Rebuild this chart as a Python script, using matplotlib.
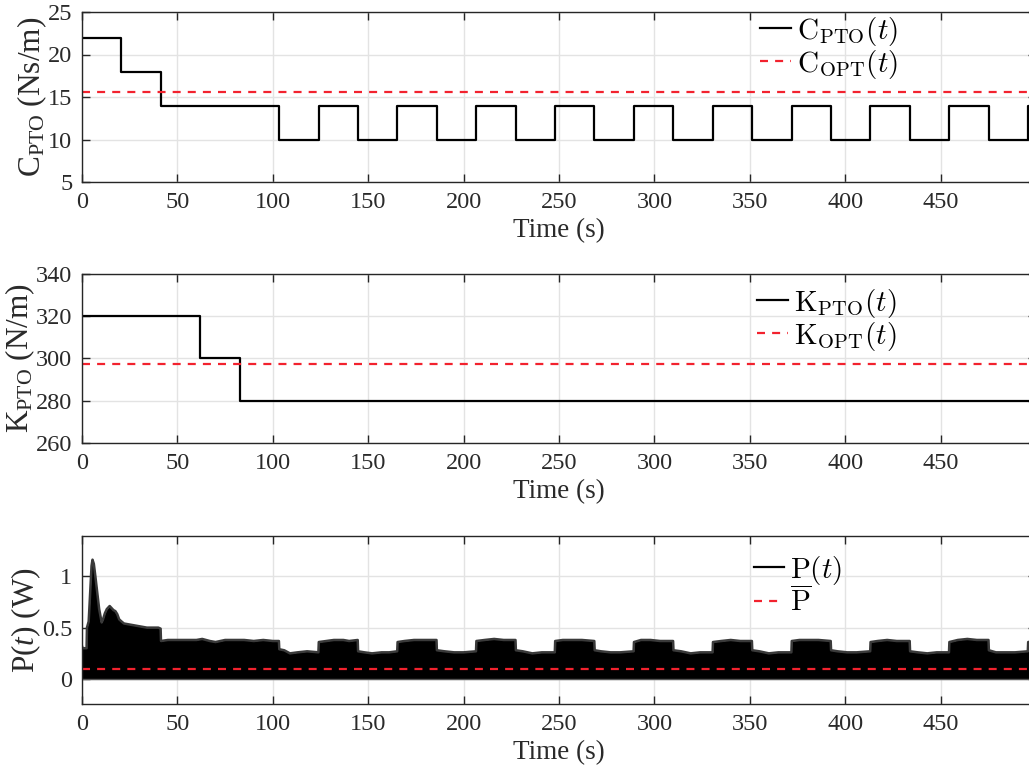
import matplotlib
matplotlib.use("Agg")
import matplotlib.pyplot as plt

# ---- data ---------------------------------------------------------------
# PTO damping schedule: switch instants (s) and the value held after each
c_switch_t = [0, 20.7, 41.3, 103.3, 124.0, 144.6, 165.3, 185.9, 206.6, 227.3,
              247.9, 268.6, 289.2, 309.9, 330.6, 351.2, 371.9, 392.5, 413.2,
              433.9, 454.5, 475.2, 495.8]
c_values = [22, 18, 14, 10, 14, 10, 14, 10, 14, 10, 14, 10, 14, 10, 14, 10,
            14, 10, 14, 10, 14, 10, 14]
c_opt = 15.6

# PTO stiffness schedule
k_switch_t = [0, 62.0, 82.6]
k_values = [320, 300, 280]
k_opt = 297.3

t_end = 500

# Upper envelope of the instantaneous power P(t) (lower bound is 0)
p_env_t = [0, 0.3, 2.4, 2.6, 3.5, 4.3, 5.0, 5.5, 6.2, 7.0, 8.0, 9.0, 10.3, 11,
           12, 13, 14.5, 15.5, 16.5, 17.5, 18.5, 19.5, 20.7, 22, 25, 28, 31,
           34, 37, 40, 41.2,
           41.4, 45, 50, 55, 60, 63, 67, 70, 75, 80, 85, 90, 95, 100, 103.2,
           103.4, 106, 109, 113, 118, 123.9,
           124.1, 128, 132, 137, 140, 144.5,
           144.7, 148, 152, 157, 161, 165.2,
           165.4, 169, 174, 179, 185.8,
           186.0, 190, 195, 200, 206.5,
           206.7, 211, 216, 221, 227.2,
           227.4, 231, 236, 241, 247.8,
           248.0, 252, 257, 262, 268.5,
           268.7, 272, 277, 282, 289.1,
           289.3, 293, 298, 303, 309.8,
           310.0, 314, 319, 324, 330.5,
           330.7, 335, 340, 345, 351.1,
           351.3, 355, 360, 365, 371.8,
           372.0, 376, 381, 386, 392.4,
           392.6, 396, 401, 406, 413.1,
           413.3, 417, 422, 427, 433.8,
           434.0, 438, 443, 448, 454.4,
           454.6, 459, 464, 469, 475.1,
           475.3, 479, 484, 489, 495.7,
           495.9, 500]
p_env_v = [0.32, 0.30, 0.30, 0.50, 0.56, 0.85, 1.10, 1.16, 1.12, 1.00, 0.84,
           0.68, 0.55, 0.58, 0.64, 0.68, 0.71, 0.69, 0.67, 0.66, 0.63, 0.58,
           0.56, 0.54, 0.53, 0.52, 0.51, 0.50, 0.50, 0.50, 0.49,
           0.37, 0.38, 0.38, 0.38, 0.38, 0.39, 0.37, 0.36, 0.38, 0.38, 0.38,
           0.37, 0.38, 0.37, 0.37,
           0.29, 0.28, 0.25, 0.26, 0.27, 0.26,
           0.36, 0.37, 0.38, 0.38, 0.37, 0.38,
           0.27, 0.26, 0.25, 0.26, 0.26, 0.27,
           0.36, 0.37, 0.38, 0.38, 0.38,
           0.28, 0.27, 0.26, 0.26, 0.27,
           0.37, 0.38, 0.39, 0.38, 0.38,
           0.28, 0.27, 0.25, 0.26, 0.26,
           0.37, 0.38, 0.38, 0.38, 0.37,
           0.28, 0.27, 0.26, 0.26, 0.27,
           0.36, 0.38, 0.38, 0.37, 0.37,
           0.28, 0.27, 0.25, 0.26, 0.26,
           0.36, 0.37, 0.38, 0.37, 0.37,
           0.28, 0.27, 0.25, 0.26, 0.26,
           0.37, 0.38, 0.38, 0.38, 0.37,
           0.28, 0.27, 0.26, 0.26, 0.27,
           0.36, 0.37, 0.38, 0.37, 0.37,
           0.27, 0.26, 0.25, 0.26, 0.26,
           0.36, 0.38, 0.39, 0.38, 0.38,
           0.28, 0.26, 0.26, 0.26, 0.27,
           0.36, 0.37]
p_mean = 0.095

x_ticks = [0, 50, 100, 150, 200, 250, 300, 350, 400, 450, 500]
x_tick_labels = ["0", "50", "100", "150", "200", "250", "300", "350", "400",
                 "450", ""]
c_ticks = [5, 10, 15, 20, 25]
k_ticks = [260, 280, 300, 320, 340]
p_ticks = [0, 0.5, 1]
p_tick_labels = ["0", "0.5", "1"]

# ---- style --------------------------------------------------------------
plt.rcParams["font.family"] = ["Liberation Serif", "DejaVu Serif"]
plt.rcParams["mathtext.fontset"] = "custom"
plt.rcParams["mathtext.rm"] = "Liberation Serif"
plt.rcParams["mathtext.it"] = "Liberation Serif:italic"

TICK_FS = 17.5
XLABEL_FS = 19.5
YLABEL_FS = 22.5
LEG_FS = 21
AX_COL = "#262626"
TXT_COL = "#2a2a2a"
GRID_COL = "#e3e3e3"
RED = "#f2222e"

W, H = 1029, 770
fig = plt.figure(figsize=(W / 100, H / 100), dpi=100)


def make_axes(top, bottom):
    ax = fig.add_axes([82 / W, 1 - bottom / H, (1036 - 82) / W, (bottom - top) / H])
    ax.set_xlim(0, t_end)
    ax.set_xticks(x_ticks)
    ax.set_xticklabels(x_tick_labels)
    ax.grid(True, color=GRID_COL, linewidth=1.0)
    ax.set_axisbelow(True)
    for sp in ax.spines.values():
        sp.set_color(AX_COL)
        sp.set_linewidth(1.0)
    ax.tick_params(direction="in", length=6, width=1.0, colors=AX_COL,
                   labelcolor=TXT_COL, labelsize=TICK_FS,
                   top=True, right=True, pad=7)
    ax.set_xlabel("Time (s)", fontsize=XLABEL_FS, color=TXT_COL, labelpad=4)
    return ax


def add_legend(ax, x, y):
    leg = ax.legend(loc="upper left", bbox_to_anchor=(x, y), frameon=False,
                    fontsize=LEG_FS, borderpad=0, borderaxespad=0,
                    handlelength=1.05, handletextpad=0.2, labelspacing=0.0)
    for txt in leg.get_texts():
        txt.set_math_fontfamily("cm")
    return leg


def steps(times, values):
    return list(times) + [t_end], list(values) + [values[-1]]


# ---- damping ------------------------------------------------------------
ax1 = make_axes(12, 182)
cx, cy = steps(c_switch_t, c_values)
ax1.plot(cx, cy, drawstyle="steps-post", color="black", linewidth=1.6,
         label=r"$\mathrm{C}_{\mathrm{PTO}}(t)$")
ax1.axhline(c_opt, color=RED, linewidth=1.6, dashes=(3.6, 3.2),
            label=r"$\mathrm{C}_{\mathrm{OPT}}(t)$")
ax1.set_ylim(5, 25)
ax1.set_yticks(c_ticks)
ax1.set_ylabel(r"$\mathrm{C}_{\mathrm{PTO}}$ (Ns/m)", fontsize=YLABEL_FS,
               color=TXT_COL, labelpad=-1)
add_legend(ax1, 0.711, 0.985)

# ---- stiffness ----------------------------------------------------------
ax2 = make_axes(274, 443)
kx, ky = steps(k_switch_t, k_values)
ax2.plot(kx, ky, drawstyle="steps-post", color="black", linewidth=1.6,
         label=r"$\mathrm{K}_{\mathrm{PTO}}(t)$")
ax2.axhline(k_opt, color=RED, linewidth=1.6, dashes=(3.6, 3.2),
            label=r"$\mathrm{K}_{\mathrm{OPT}}(t)$")
ax2.set_ylim(260, 340)
ax2.set_yticks(k_ticks)
ax2.set_ylabel(r"$\mathrm{K}_{\mathrm{PTO}}$ (N/m)", fontsize=YLABEL_FS,
               color=TXT_COL, labelpad=-1)
add_legend(ax2, 0.708, 0.925)

# ---- power --------------------------------------------------------------
ax3 = make_axes(536, 704)
ax3.fill_between(p_env_t, 0, p_env_v, color="black", linewidth=0)
ax3.plot(p_env_t, p_env_v, color="#3a3a3a", linewidth=1.8)
ax3.plot([0, t_end], [0, 0], color="#555555", linewidth=1.0)
ax3.plot([], [], color="black", linewidth=1.6, label=r"$\mathrm{P}(t)$")
ax3.axhline(p_mean, color=RED, linewidth=1.6, dashes=(3.6, 3.2),
            label=r"$\overline{\mathrm{P}}$")
ax3.set_ylim(-0.242, 1.39)
ax3.set_yticks(p_ticks)
ax3.set_yticklabels(p_tick_labels)
ax3.set_ylabel(r"P($t$) (W)", fontsize=YLABEL_FS, color=TXT_COL, labelpad=-1)
add_legend(ax3, 0.704, 0.895)

fig.savefig("out.png", dpi=100)
